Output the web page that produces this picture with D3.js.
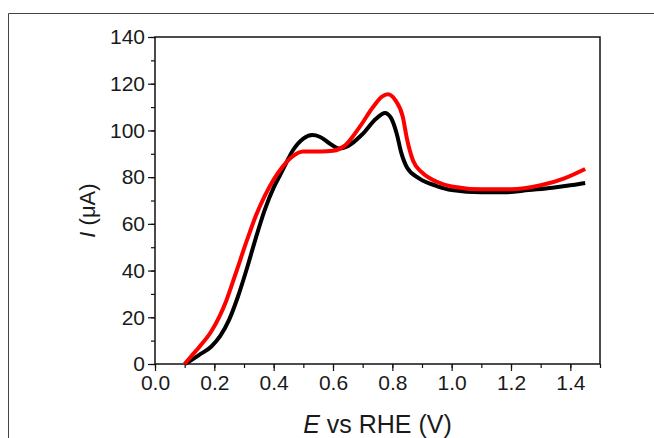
<!DOCTYPE html>
<html>
<head>
<meta charset="utf-8">
<script src="https://cdn.jsdelivr.net/npm/d3@7"></script>
<style>
  body { margin: 0; background: #fff; }
  text { font-family: "Liberation Sans", Arial, sans-serif; fill: #1a1a1a; }
</style>
</head>
<body>
<div id="chart"></div>
<script>
// potential (V vs RHE) and current (uA)
const blackE = [0.100, 0.120, 0.150, 0.190, 0.220, 0.250, 0.280, 0.310, 0.340, 0.370, 0.400, 0.420, 0.440, 0.465, 0.500, 0.530, 0.555, 0.590, 0.620, 0.650, 0.700, 0.745, 0.775, 0.795, 0.815, 0.830, 0.850, 0.890, 0.950, 1.000, 1.100, 1.180, 1.260, 1.340, 1.400, 1.450];
const blackI = [0, 1.5, 4, 7.5, 12, 19, 29, 41, 54, 66, 75.5, 80.5, 85.5, 91.5, 96.5, 98, 97.3, 94.3, 92.3, 93.3, 98.5, 105, 107.5, 105.5, 98.5, 90.5, 84, 79.5, 76.2, 74.5, 73.5, 73.5, 74.5, 75.5, 76.5, 77.5];

const redE = [0.100, 0.120, 0.150, 0.190, 0.240, 0.270, 0.310, 0.340, 0.370, 0.400, 0.430, 0.460, 0.500, 0.560, 0.600, 0.640, 0.690, 0.735, 0.765, 0.785, 0.810, 0.835, 0.850, 0.870, 0.900, 0.950, 1.000, 1.100, 1.200, 1.300, 1.380, 1.450];
const redI = [0, 3, 7.4, 14, 27, 38, 53, 63.5, 72, 79, 84.5, 88.5, 91, 91, 91.3, 93.5, 101.5, 110, 114.5, 115.5, 113, 106, 96, 87, 82, 78, 76, 74.8, 74.8, 76.5, 79.5, 83.5];

const xTicks = [0.0, 0.2, 0.4, 0.6, 0.8, 1.0, 1.2, 1.4];
const yTicks = [0, 20, 40, 60, 80, 100, 120, 140];

const W = 654, H = 438;
const margin = { top: 37, right: 54, bottom: 74, left: 155 };
const width = W - margin.left - margin.right;
const height = H - margin.top - margin.bottom;

const svg = d3.select('#chart').append('svg').attr('width', W).attr('height', H);

// outer frame (top and left edges visible)
svg.append('path')
    .attr('d', `M8.5,${H} V13.5 H${W}`)
    .attr('fill', 'none')
    .attr('stroke', '#444')
    .attr('stroke-width', 1);

const g = svg.append('g').attr('transform', `translate(${margin.left},${margin.top})`);

const x = d3.scaleLinear().domain([0, 1.5]).range([0, width]);
const y = d3.scaleLinear().domain([0, 140]).range([height, 0]);

// minor ticks
g.append('g')
    .attr('transform', `translate(0,${height})`)
    .call(d3.axisBottom(x).tickValues(d3.range(0, 1.51, 0.1)).tickSize(4).tickFormat(''))
    .call(a => a.select('.domain').remove());
g.append('g')
    .call(d3.axisLeft(y).tickValues(d3.range(0, 141, 10)).tickSize(4).tickFormat(''))
    .call(a => a.select('.domain').remove());

// major ticks + labels
const xAxis = g.append('g')
    .attr('transform', `translate(0,${height})`)
    .call(d3.axisBottom(x).tickValues(xTicks).tickSize(7).tickPadding(4).tickFormat(d3.format('.1f')));
xAxis.selectAll('text').style('font-size', '21px');

const yAxis = g.append('g')
    .call(d3.axisLeft(y).tickValues(yTicks).tickSize(7).tickPadding(3).tickFormat(d3.format('d')));
yAxis.selectAll('text').style('font-size', '21px');

g.selectAll('.domain').remove();
g.selectAll('.tick line').attr('stroke', '#111').attr('stroke-width', 1.2);

// plot box
g.append('rect')
    .attr('width', width).attr('height', height)
    .attr('fill', 'none').attr('stroke', '#111').attr('stroke-width', 1.5);

const line = d3.line()
    .x(d => x(d[0]))
    .y(d => y(d[1]))
    .curve(d3.curveMonotoneX);

g.append('path')
    .datum(d3.zip(blackE, blackI))
    .attr('d', line)
    .attr('fill', 'none')
    .attr('stroke', '#000')
    .attr('stroke-width', 4);

g.append('path')
    .datum(d3.zip(redE, redI))
    .attr('d', line)
    .attr('fill', 'none')
    .attr('stroke', '#ff0000')
    .attr('stroke-width', 4);

// axis titles
const xt = svg.append('text')
    .attr('x', margin.left + width / 2)
    .attr('y', 433)
    .attr('text-anchor', 'middle')
    .style('font-size', '25px');
xt.append('tspan').style('font-style', 'italic').text('E');
xt.append('tspan').text(' vs RHE (V)');

const yt = svg.append('text')
    .attr('transform', `translate(95,${margin.top + height / 2 + 10}) rotate(-90)`)
    .attr('text-anchor', 'middle')
    .style('font-size', '22px');
yt.append('tspan').style('font-style', 'italic').text('I');
yt.append('tspan').text(' (μA)');
</script>
</body>
</html>
